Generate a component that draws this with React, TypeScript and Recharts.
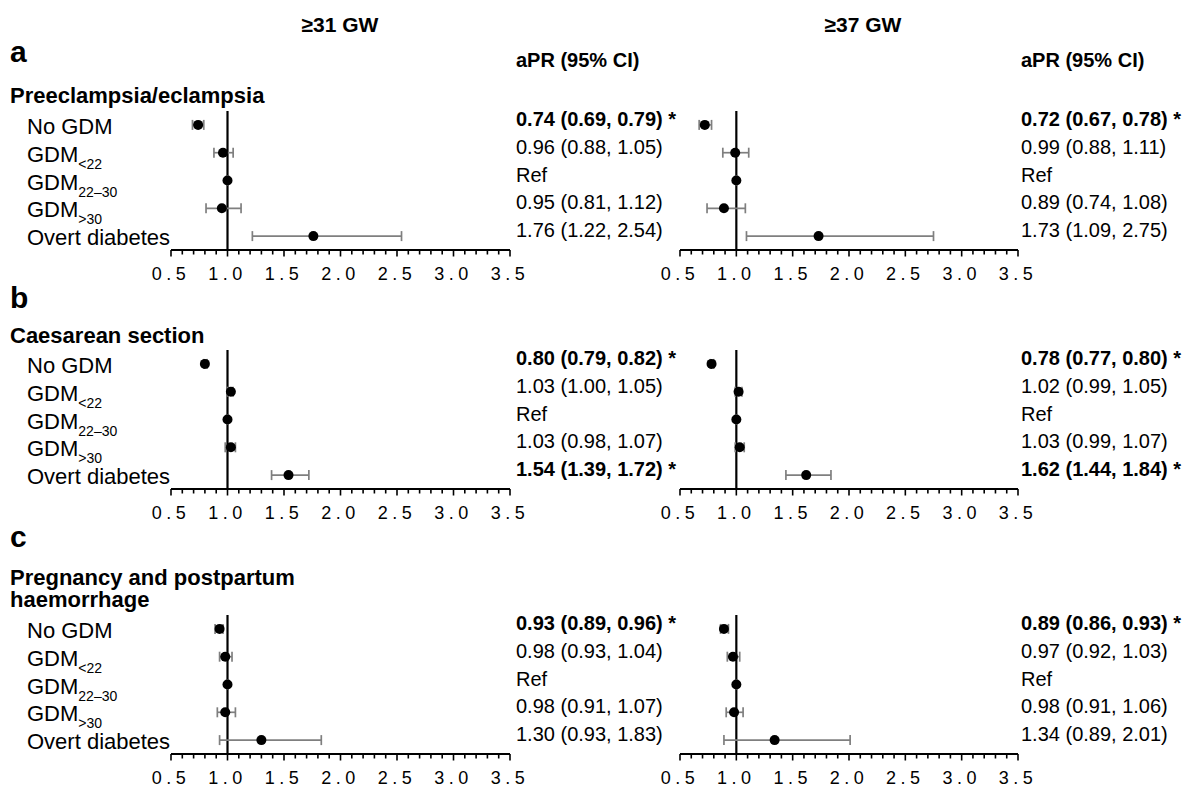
import React from 'react';
import { ScatterChart, Scatter, XAxis, YAxis, ErrorBar, ReferenceLine } from 'recharts';

const FONT = '"Liberation Sans", Arial, Helvetica, sans-serif';
const INK = '#000';

// Row labels (base + subscript)
const rowNames = ['No GDM', 'GDM', 'GDM', 'GDM', 'Overt diabetes'];
const rowSubs = ['', '<22', '22–30', '>30', ''];
const refRow = 2;

// Axis ticks (major labelled every 0.5, minor every 0.1)
const xTicks = [
  0.5, 0.6, 0.7, 0.8, 0.9, 1.0, 1.1, 1.2, 1.3, 1.4, 1.5, 1.6, 1.7, 1.8, 1.9, 2.0,
  2.1, 2.2, 2.3, 2.4, 2.5, 2.6, 2.7, 2.8, 2.9, 3.0, 3.1, 3.2, 3.3, 3.4, 3.5,
];
const majorTicks = [0.5, 1.0, 1.5, 2.0, 2.5, 3.0, 3.5];

// a: Preeclampsia/eclampsia
const pe31Est = [0.74, 0.96, 1.0, 0.95, 1.76];
const pe31Low = [0.69, 0.88, 1.0, 0.81, 1.22];
const pe31High = [0.79, 1.05, 1.0, 1.12, 2.54];
const pe31Sig = [true, false, false, false, false];

const pe37Est = [0.72, 0.99, 1.0, 0.89, 1.73];
const pe37Low = [0.67, 0.88, 1.0, 0.74, 1.09];
const pe37High = [0.78, 1.11, 1.0, 1.08, 2.75];
const pe37Sig = [true, false, false, false, false];

// b: Caesarean section
const cs31Est = [0.8, 1.03, 1.0, 1.03, 1.54];
const cs31Low = [0.79, 1.0, 1.0, 0.98, 1.39];
const cs31High = [0.82, 1.05, 1.0, 1.07, 1.72];
const cs31Sig = [true, false, false, false, true];

const cs37Est = [0.78, 1.02, 1.0, 1.03, 1.62];
const cs37Low = [0.77, 0.99, 1.0, 0.99, 1.44];
const cs37High = [0.8, 1.05, 1.0, 1.07, 1.84];
const cs37Sig = [true, false, false, false, true];

// c: Pregnancy and postpartum haemorrhage
const ph31Est = [0.93, 0.98, 1.0, 0.98, 1.3];
const ph31Low = [0.89, 0.93, 1.0, 0.91, 0.93];
const ph31High = [0.96, 1.04, 1.0, 1.07, 1.83];
const ph31Sig = [true, false, false, false, false];

const ph37Est = [0.89, 0.97, 1.0, 0.98, 1.34];
const ph37Low = [0.86, 0.92, 1.0, 0.91, 0.89];
const ph37High = [0.93, 1.03, 1.0, 1.06, 2.01];
const ph37Sig = [true, false, false, false, false];

const rowY = [4.5, 3.5, 2.5, 1.5, 0.5];

type PanelDef = {
  est: number[];
  low: number[];
  high: number[];
  sig: boolean[];
  left: number;
  top: number;
  showLabels: boolean;
};

const MARGIN_TOP = 5;
const PLOT_H = 139;
const XAXIS_H = 40;

const panels: PanelDef[] = [
  { est: pe31Est, low: pe31Low, high: pe31High, sig: pe31Sig, left: 0, top: 111, showLabels: true },
  { est: pe37Est, low: pe37Low, high: pe37High, sig: pe37Sig, left: 591, top: 111, showLabels: false },
  { est: cs31Est, low: cs31Low, high: cs31High, sig: cs31Sig, left: 0, top: 350, showLabels: true },
  { est: cs37Est, low: cs37Low, high: cs37High, sig: cs37Sig, left: 591, top: 350, showLabels: false },
  { est: ph31Est, low: ph31Low, high: ph31High, sig: ph31Sig, left: 0, top: 615, showLabels: true },
  { est: ph37Est, low: ph37Low, high: ph37High, sig: ph37Sig, left: 591, top: 615, showLabels: false },
];

const XTick = (props: any) => {
  const { x, y, payload } = props;
  const v = payload.value as number;
  const major = majorTicks.some((m) => Math.abs(m - v) < 1e-6);
  return (
    <g>
      <line x1={x} x2={x} y1={y} y2={y + (major ? 6.5 : 4.5)} stroke="#000" strokeWidth={1.6} />
      {major && (
        <text x={x} y={y + 30} textAnchor="middle" fontSize={18} letterSpacing={4.5} fill={INK} fontFamily={FONT}>
          {v.toFixed(1)}
        </text>
      )}
    </g>
  );
};

const rowIndex = (v: number) => rowY.findIndex((r) => Math.abs(r - v) < 1e-6);

const RowTick = (props: any) => {
  const { y, payload, panel, valueX } = props;
  const p = panel as PanelDef;
  const i = rowIndex(payload.value);
  if (i < 0 || y == null) return null;
  const txt =
    i === refRow
      ? 'Ref'
      : `${p.est[i].toFixed(2)} (${p.low[i].toFixed(2)}, ${p.high[i].toFixed(2)})${p.sig[i] ? ' *' : ''}`;
  return (
    <g>
      {p.showLabels && (
        <text x={27} y={y + 9} fontSize={22} fontFamily={FONT} fill={INK}>
          {rowNames[i]}
          {rowSubs[i] ? (
            <tspan fontSize={14} dy={7}>
              {rowSubs[i]}
            </tspan>
          ) : null}
        </text>
      )}
      <text x={valueX} y={y + 1} fontSize={20} fontFamily={FONT} fill={INK} fontWeight={p.sig[i] ? 'bold' : 'normal'}>
        {txt}
      </text>
    </g>
  );
};

const Dot = (props: any) => {
  const { cx, cy } = props;
  if (cx == null || cy == null) return null;
  return <circle cx={cx} cy={cy} r={5} fill="#000" />;
};

const Panel = ({ p }: { p: PanelDef }) => {
  const data = p.est.map((e, i) => ({
    x: e,
    y: rowY[i],
    err: [e - p.low[i], p.high[i] - e],
  }));
  const chartW = p.showLabels ? 690 : 591;
  const leftW = p.showLabels ? 171 : 89;
  const rightW = p.showLabels ? 180 : 164;
  const valueX = p.showLabels ? 516 : 430;
  return (
    <div style={{ position: 'absolute', left: p.left, top: p.top - MARGIN_TOP }}>
      <ScatterChart
        width={chartW}
        height={MARGIN_TOP + PLOT_H + XAXIS_H}
        margin={{ top: MARGIN_TOP, right: rightW, bottom: 0, left: 0 }}
      >
        <XAxis
          type="number"
          dataKey="x"
          domain={[0.5, 3.5]}
          ticks={xTicks}
          interval={0}
          tick={<XTick />}
          tickLine={false}
          tickSize={0}
          tickMargin={0}
          height={XAXIS_H}
          axisLine={{ stroke: '#000', strokeWidth: 2 }}
          allowDataOverflow
        />
        <YAxis
          type="number"
          dataKey="y"
          domain={[0, 5]}
          ticks={rowY}
          interval={0}
          width={leftW}
          axisLine={false}
          tickLine={false}
          tickSize={0}
          tickMargin={0}
          tick={<RowTick panel={p} valueX={valueX} />}
        />
        <ReferenceLine x={1} stroke="#000" strokeWidth={2.2} />
        <Scatter data={data} shape={<Dot />} isAnimationActive={false}>
          <ErrorBar dataKey="err" direction="x" width={5} stroke="#7f7f7f" strokeWidth={1.7} />
        </Scatter>
      </ScatterChart>
    </div>
  );
};

export default function App() {
  return (
    <div
      style={{
        position: 'absolute',
        left: 0,
        top: 0,
        width: 1182,
        height: 788,
        overflow: 'hidden',
        background: '#fff',
        fontFamily: FONT,
      }}
    >
      <svg width={1182} height={788} style={{ position: 'absolute', left: 0, top: 0 }}>
        <g fontFamily={FONT} fill={INK} fontWeight="bold">
          <text x={340} y={32} fontSize={21} textAnchor="middle">≥31 GW</text>
          <text x={863} y={32} fontSize={21} textAnchor="middle">≥37 GW</text>
          <text x={516} y={67} fontSize={20}>aPR (95% CI)</text>
          <text x={1021} y={67} fontSize={20}>aPR (95% CI)</text>
          <text x={10} y={62} fontSize={30}>a</text>
          <text x={10} y={308} fontSize={30}>b</text>
          <text x={10} y={547} fontSize={30}>c</text>
          <text x={10} y={103} fontSize={22}>Preeclampsia/eclampsia</text>
          <text x={10} y={343} fontSize={22}>Caesarean section</text>
          <text x={10} y={585} fontSize={22}>Pregnancy and postpartum</text>
          <text x={10} y={607} fontSize={22}>haemorrhage</text>
        </g>
      </svg>
      {panels.map((p, k) => (
        <Panel key={k} p={p} />
      ))}
    </div>
  );
}
